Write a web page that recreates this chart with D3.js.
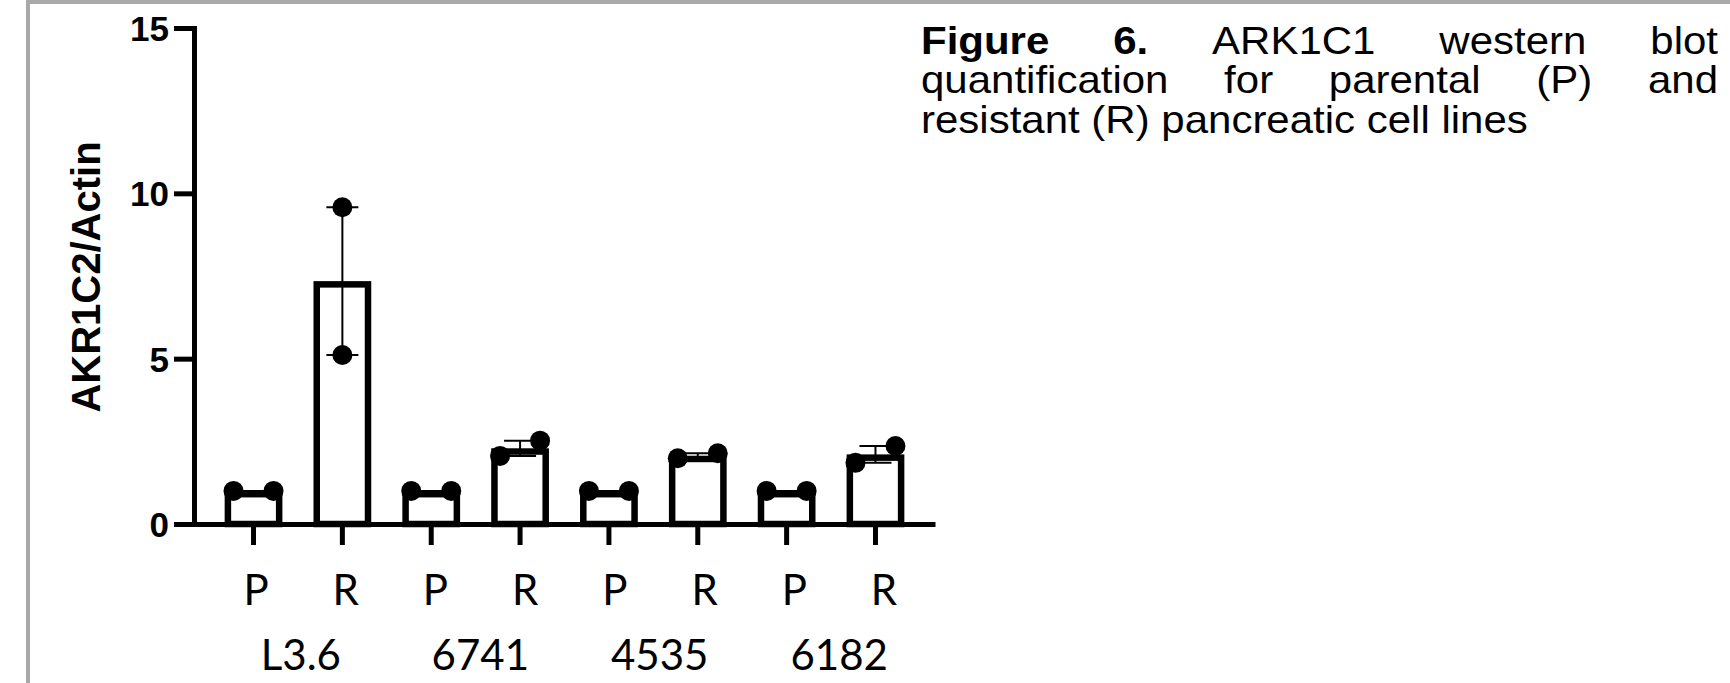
<!DOCTYPE html>
<html><head><meta charset="utf-8">
<script src="https://cdn.jsdelivr.net/npm/d3@7"></script>
<style>
html,body{margin:0;padding:0;background:#fff;}
svg{display:block;}
</style></head><body>
<svg id="chart" width="1730" height="683"></svg>
<script>
// ---------------- data ----------------
const groups = ["L3.6", "6741", "4535", "6182"];
const categories = ["L3.6-P","L3.6-R","6741-P","6741-R","4535-P","4535-R","6182-P","6182-R"];
const tickLabels = ["P","R","P","R","P","R","P","R"];
const replicateA = [1.00, 9.58, 1.00, 2.06, 1.00, 1.99, 1.00, 1.85];
const replicateB = [1.00, 5.11, 1.00, 2.52, 1.00, 2.14, 1.00, 2.36];
const yTicks = [0, 5, 10, 15];
const yTitle = "AKR1C2/Actin";
const captionBold = ["Figure", "6."];
const captionLines = [
  "Figure 6. ARK1C1 western blot",
  "quantification for parental (P) and",
  "resistant (R) pancreatic cell lines"
];

// ---------------- layout ----------------
const W = 1730, H = 683;
const svg = d3.select("#chart");
const ARIAL = "'Liberation Sans', Arial, Helvetica, sans-serif";
const CALIBRI = "Lato, 'Open Sans', sans-serif";

// frame (gray top + left rule)
svg.append("rect").attr("x", 26).attr("y", 0).attr("width", W - 26).attr("height", 4).attr("fill", "#a9a9a9");
svg.append("rect").attr("x", 26).attr("y", 0).attr("width", 4).attr("height", H).attr("fill", "#a9a9a9");

const axisX0 = 194, axisX1 = 935, axisY0 = 524, axisYTop = 28;

const x = d3.scaleBand().domain(categories).range([axisX0, axisX1])
  .paddingInner(0.35).paddingOuter(0.345);
const y = d3.scaleLinear().domain([0, 15]).range([axisY0, axisYTop]);
const labelX = d3.scalePoint().domain(categories).range([256, 884]);

const bw = x.bandwidth();
const barSW = 6.5;
const r = 10;

const data = categories.map((c, i) => {
  const vals = [replicateA[i], replicateB[i]].sort((a, b) => a - b);
  return {c, i, vals, mean: d3.mean(vals), min: d3.min(vals), max: d3.max(vals)};
});

// bars
svg.append("g").selectAll("rect").data(data).join("rect")
  .attr("x", d => x(d.c) + barSW / 2)
  .attr("width", bw - barSW)
  .attr("y", d => y(d.mean) + barSW / 2)
  .attr("height", d => y(0) - y(d.mean) - barSW / 2)
  .attr("fill", "#fff").attr("stroke", "#000").attr("stroke-width", barSW);

// error bars (range)
const eb = svg.append("g").attr("stroke", "#000").attr("stroke-width", 2);
const cx = d => x(d.c) + bw / 2;
eb.selectAll("line.v").data(data).join("line").attr("class", "v")
  .attr("x1", cx).attr("x2", cx)
  .attr("y1", d => y(d.min)).attr("y2", d => y(d.max));
eb.selectAll("line.hi").data(data).join("line").attr("class", "hi")
  .attr("x1", d => cx(d) - 16).attr("x2", d => cx(d) + 16)
  .attr("y1", d => y(d.max)).attr("y2", d => y(d.max));
eb.selectAll("line.lo").data(data).join("line").attr("class", "lo")
  .attr("x1", d => cx(d) - 16).attr("x2", d => cx(d) + 16)
  .attr("y1", d => y(d.min)).attr("y2", d => y(d.min));

// axes
const yAxis = d3.axisLeft(y).tickValues(yTicks).tickSize(20).tickSizeOuter(0).tickPadding(5);
const gy = svg.append("g").attr("transform", `translate(${axisX0},0)`).call(yAxis);
gy.select(".domain").attr("stroke-width", 5).attr("stroke-linecap", "square");
gy.selectAll(".tick line").attr("stroke-width", 5);
gy.selectAll(".tick text").attr("font-family", ARIAL).attr("font-weight", "bold")
  .attr("font-size", 35).attr("fill", "#000").attr("dy", "0.36em");

const xAxis = d3.axisBottom(x).tickSize(21).tickSizeOuter(0).tickFormat("");
const gx = svg.append("g").attr("transform", `translate(0,${axisY0})`).call(xAxis);
gx.select(".domain").attr("stroke-width", 5);
gx.selectAll(".tick line").attr("stroke-width", 5);

// dots (spread horizontally when overlapping)
const dots = [];
data.forEach(d => {
  const overlap = Math.abs(y(d.vals[0]) - y(d.vals[1])) < 2 * r;
  d.vals.forEach((v, k) => {
    const off = overlap ? (k === 0 ? -2 * r : 2 * r) : 0;
    dots.push({x: cx(d) + off, y: y(v)});
  });
});
svg.append("g").selectAll("circle").data(dots).join("circle")
  .attr("cx", d => d.x).attr("cy", d => d.y).attr("r", r).attr("fill", "#000");

// x labels
svg.append("g").selectAll("text").data(categories).join("text")
  .attr("x", c => labelX(c)).attr("y", 605)
  .attr("text-anchor", "middle").attr("font-family", CALIBRI).attr("font-size", 42)
  .attr("fill", "#000").text((c, i) => tickLabels[i]);
svg.append("g").selectAll("text").data(groups).join("text")
  .attr("x", (g, i) => (labelX(categories[2 * i]) + labelX(categories[2 * i + 1])) / 2)
  .attr("y", 670)
  .attr("text-anchor", "middle").attr("font-family", CALIBRI).attr("font-size", 42)
  .attr("fill", "#000").text(g => g);

// y title
svg.append("text")
  .attr("transform", `translate(100,${(y(0) + y(15)) / 2 + 1}) rotate(-90)`)
  .attr("text-anchor", "middle").attr("font-family", ARIAL).attr("font-weight", "bold")
  .attr("font-size", 40).attr("fill", "#000").text(yTitle);

// caption (justified, slightly widened glyphs)
const capLeft = 921, capRight = 1718, capBase = 54, capGap = 39.5, capSize = 39, capSX = 1.077;
const cap = svg.append("g").attr("transform", `translate(${capLeft},0) scale(${capSX},1)`)
  .attr("font-family", ARIAL).attr("font-size", capSize).attr("fill", "#000");
const span = (capRight - capLeft) / capSX;
captionLines.forEach((line, li) => {
  const words = line.split(" ");
  const nodes = words.map(w => cap.append("text")
    .attr("y", capBase + li * capGap)
    .attr("font-weight", captionBold.includes(w) && li === 0 ? "bold" : "normal")
    .text(w));
  const widths = nodes.map(n => n.node().getComputedTextLength());
  const total = d3.sum(widths);
  const last = li === captionLines.length - 1;
  const spaceW = capSize * 0.278;
  const gap = last ? spaceW : (span - total) / (words.length - 1);
  let xx = 0;
  nodes.forEach((n, k) => { n.attr("x", xx); xx += widths[k] + gap; });
});
</script>
</body></html>
